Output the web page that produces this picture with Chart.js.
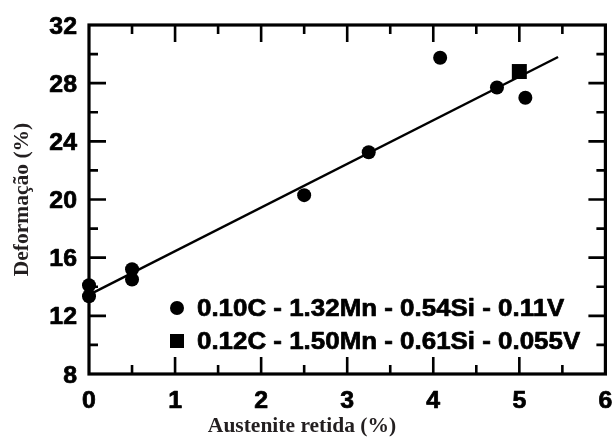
<!DOCTYPE html>
<html>
<head>
<meta charset="utf-8">
<script src="https://cdn.jsdelivr.net/npm/chart.js@4/dist/chart.umd.min.js"></script>
<style>
  html, body { margin: 0; padding: 0; background: #fff; }
  #wrap { width: 616px; height: 437px; position: relative; }
</style>
</head>
<body>
<div id="wrap"><canvas id="c" width="616" height="437"></canvas></div>
<script>
// ---- data ----
const xTickLabels = ['0', '1', '2', '3', '4', '5', '6'];
const yTickLabels = ['8', '12', '16', '20', '24', '28', '32'];

const seriesALabel = '0.10C - 1.32Mn - 0.54Si - 0.11V';
const seriesAX = [0, 0, 0.5, 0.5, 2.5, 3.25, 4.08, 4.74, 5.07];
const seriesAY = [14.1, 13.35, 15.2, 14.5, 20.3, 23.25, 29.75, 27.7, 27.0];

const seriesBLabel = '0.12C - 1.50Mn - 0.61Si - 0.055V';
const seriesBX = [5.0];
const seriesBY = [28.8];

const fitX = [0.05, 5.45];
const fitY = [13.6, 29.8];

const xTitle = 'Austenite retida (%)';
const yTitle = 'Deformação (%)';

// ---- build chart ----
const toPts = (xs, ys) => xs.map((x, i) => ({ x: x, y: ys[i] }));

const SANS = '"Liberation Sans", Arial, sans-serif';
const SERIF = '"Liberation Serif", "Times New Roman", serif';
const STRETCH = 1.08;

function stretchedText(ctx, text, x, y, align) {
  ctx.save();
  const w = ctx.measureText(text).width * STRETCH;
  let left = x;
  if (align === 'center') left = x - w / 2;
  else if (align === 'right') left = x - w;
  ctx.translate(left, y);
  ctx.scale(STRETCH, 1);
  ctx.textAlign = 'left';
  ctx.lineWidth = 0.7;
  ctx.lineJoin = 'round';
  ctx.fillText(text, 0, 0);
  ctx.strokeText(text, 0, 0);
  ctx.restore();
}

const decorPlugin = {
  id: 'decor',
  afterDraw(chart) {
    const ctx = chart.ctx;
    const a = chart.chartArea;
    const xs = chart.scales.x, ys = chart.scales.y;
    ctx.save();
    ctx.strokeStyle = '#000';
    ctx.fillStyle = '#000';
    // frame
    ctx.lineWidth = 3.2;
    ctx.strokeRect(a.left, a.top, a.right - a.left, a.bottom - a.top);
    // ticks (inward, all four sides)
    ctx.lineWidth = 2.6;
    const MAJ = 17, MIN = 9;
    const xt = xs.ticks.map(t => t.value);
    for (let i = 0; i < xt.length; i++) {
      const v = xt[i];
      const px = xs.getPixelForValue(v);
      if (i > 0 && i < xt.length - 1) {
        ctx.beginPath();
        ctx.moveTo(px, a.bottom); ctx.lineTo(px, a.bottom - MAJ);
        ctx.moveTo(px, a.top); ctx.lineTo(px, a.top + MAJ);
        ctx.stroke();
      }
      if (i < xt.length - 1) {
        const pm = xs.getPixelForValue((v + xt[i + 1]) / 2);
        ctx.beginPath();
        ctx.moveTo(pm, a.bottom); ctx.lineTo(pm, a.bottom - MIN);
        ctx.moveTo(pm, a.top); ctx.lineTo(pm, a.top + MIN);
        ctx.stroke();
      }
    }
    const yt = ys.ticks.map(t => t.value);
    for (let i = 0; i < yt.length; i++) {
      const v = yt[i];
      const py = ys.getPixelForValue(v);
      if (i > 0 && i < yt.length - 1) {
        ctx.beginPath();
        ctx.moveTo(a.left, py); ctx.lineTo(a.left + MAJ, py);
        ctx.moveTo(a.right, py); ctx.lineTo(a.right - MAJ, py);
        ctx.stroke();
      }
      if (i < yt.length - 1) {
        const pm = ys.getPixelForValue((v + yt[i + 1]) / 2);
        ctx.beginPath();
        ctx.moveTo(a.left, pm); ctx.lineTo(a.left + MIN, pm);
        ctx.moveTo(a.right, pm); ctx.lineTo(a.right - MIN, pm);
        ctx.stroke();
      }
    }
    // tick labels
    ctx.font = 'bold 23px ' + SANS;
    ctx.textBaseline = 'alphabetic';
    xs.ticks.forEach((t, i) => {
      const px = xs.getPixelForValue(t.value);
      stretchedText(ctx, xTickLabels[i], px, a.bottom + 34, 'center');
    });
    ys.ticks.forEach((t, i) => {
      const py = ys.getPixelForValue(t.value);
      stretchedText(ctx, yTickLabels[i], a.left - 12, py + 8.5, 'right');
    });
    // legend
    const lx = a.left + 88, tx = a.left + 108;
    const r1 = a.bottom - 66, r2 = a.bottom - 33;
    ctx.beginPath();
    ctx.arc(lx, r1, 7, 0, Math.PI * 2);
    ctx.fill();
    ctx.fillRect(lx - 7, r2 - 7, 14, 14);
    ctx.font = 'bold 24px ' + SANS;
    stretchedText(ctx, seriesALabel, tx, r1 + 8, 'left');
    stretchedText(ctx, seriesBLabel, tx, r2 + 8, 'left');
    // axis titles
    ctx.fillStyle = '#231f20';
    ctx.font = 'bold 21.5px ' + SERIF;
    ctx.textAlign = 'center';
    ctx.fillText(xTitle, 302, 432);
    ctx.save();
    ctx.translate(28, (a.top + a.bottom) / 2);
    ctx.rotate(-Math.PI / 2);
    ctx.fillText(yTitle, 0, 0);
    ctx.restore();
    ctx.restore();
  }
};

new Chart(document.getElementById('c'), {
  type: 'scatter',
  data: {
    datasets: [
      {
        type: 'line',
        label: 'fit',
        data: toPts(fitX, fitY),
        borderColor: '#000',
        borderWidth: 2.4,
        pointRadius: 0,
        fill: false,
        clip: false,
        order: 3
      },
      {
        label: seriesALabel,
        data: toPts(seriesAX, seriesAY),
        pointStyle: 'circle',
        pointRadius: 7,
        backgroundColor: '#000',
        borderColor: '#000',
        borderWidth: 0,
        clip: false,
        order: 1
      },
      {
        label: seriesBLabel,
        data: toPts(seriesBX, seriesBY),
        pointStyle: 'rect',
        pointRadius: 10.6,
        backgroundColor: '#000',
        borderColor: '#000',
        borderWidth: 0,
        clip: false,
        order: 1
      }
    ]
  },
  options: {
    responsive: false,
    animation: false,
    layout: { padding: { left: 89, right: 7, top: 25, bottom: 63 } },
    plugins: { legend: { display: false }, tooltip: { enabled: false } },
    scales: {
      x: {
        type: 'linear', min: 0, max: 6,
        ticks: { display: false, stepSize: 1 },
        grid: { display: false, drawTicks: false },
        border: { display: false }
      },
      y: {
        type: 'linear', min: 8, max: 32,
        ticks: { display: false, stepSize: 4 },
        grid: { display: false, drawTicks: false },
        border: { display: false }
      }
    }
  },
  plugins: [decorPlugin]
});
</script>
</body>
</html>
